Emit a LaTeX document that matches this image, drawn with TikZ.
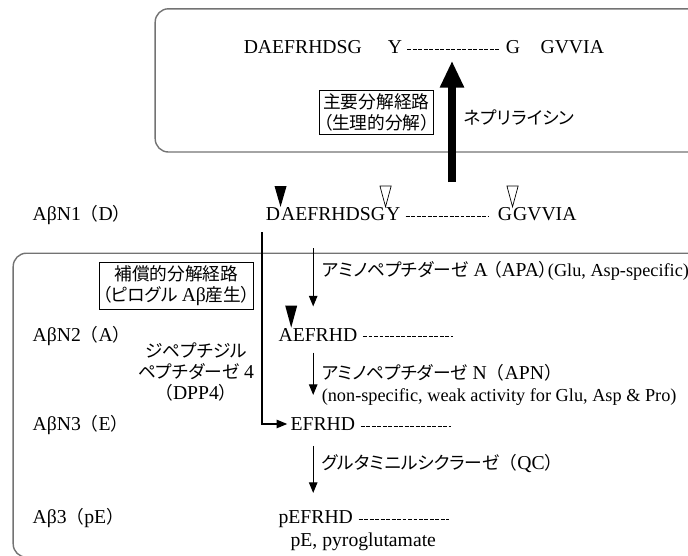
\documentclass[tikz,border=0pt]{standalone}
\usepackage{fontspec}
\setmainfont{Liberation Serif}
\newfontfamily\jp[Scale=0.9,RawFeature=+palt]{Noto Sans CJK JP}
\newfontfamily\jpw[Scale=0.9]{Noto Sans CJK JP}
\usetikzlibrary{arrows.meta, positioning, calc}

\begin{document}
\begin{tikzpicture}[>=Stealth, thick,
    lab/.style={font=\fontsize{14}{17}\selectfont, inner sep=0pt, anchor=base west},
    note/.style={font=\fontsize{14}{15}\selectfont, inner sep=0pt, align=center},
    areabox/.style={draw=black!55, line width=1pt, rounded corners=0.33cm},
    pathbox/.style={draw, line width=0.6pt, inner sep=2.5pt, align=center, font=\fontsize{14}{15}\selectfont},
    dashrow/.style={line width=0.5pt, dash pattern=on 2.8pt off 1.1pt},
    enz/.style={-{Triangle[width=6pt,length=7.5pt]}, line width=0.8pt}]
    \path[use as bounding box, clip] (0,0) rectangle (17.2,-13.875);

    % Frames of the two pathways
    \draw[areabox] (3.88,-0.22) rectangle (17.6,-3.8);
    \draw[areabox] (0.33,-6.33) rectangle (17.6,-13.93);

    % Full-length peptide (top)
    \node[lab] (topA) at (6.08,-1.34) {DAEFRHDSG};
    \node[lab] (topY) at (9.68,-1.34) {Y};
    \node[lab] (topG) at (12.63,-1.34) {G};
    \node[lab] (topGV) at (13.5,-1.34) {GVVIA};
    \draw[dashrow] ($(topY.base east)+(0.12,0.11)$) -- ($(topG.base west)+(-0.12,0.11)$);

    % Neprilysin route
    \node[pathbox] (mainbox) at (9.41,-2.81) {{\jp 主要分解経路}\\{\jp （生理的分解）}};
    \node[lab] (nep) at (11.58,-3.1) {\jp ネプリライシン};
    \coordinate (nepFoot) at (11.3,-4.55);
    \coordinate (nepTip) at (11.3,-1.52);
    \draw[-{Triangle[width=16pt,length=19pt]}, line width=5pt] (nepFoot) -- (nepTip);

    % AbetaN1
    \node[lab] (n1lab) at (0.8,-5.51) {AβN1{\jpw （}D{\jpw ）}};
    \node[lab] (n1D) at (6.63,-5.51) {D};
    \node[lab] (n1a) at (n1D.base east) {AEFRHDSG};
    \node[lab] (n1Y) at (n1a.base east) {Y};
    \node[lab] (n1G) at (12.43,-5.51) {G};
    \node[lab] (n1b) at (n1G.base east) {GVVIA};
    \draw[dashrow] ($(n1Y.base east)+(0.12,0.11)$) -- ($(n1G.base west)+(-0.22,0.11)$);
    % cleavage sites
    \fill (n1D.north east) -- ++(-0.15,0.52) -- ++(0.3,0) -- cycle;
    \foreach \m in {n1a, n1G}
        \draw[line width=0.5pt] (\m.north east) -- ++(-0.14,0.52) -- ++(0.28,0) -- cycle;

    % Compensatory route
    \node[pathbox] (compbox) at (4.41,-7.14) {{\jp 補償的分解経路}\\{\jp （ピログル }Aβ{\jp 産生）}};
    \node[note] (dpp) at (4.9,-9.3) {{\jp ジペプチジル}\\{\jp ペプチダーゼ} 4\\{\jpw （}DPP4{\jpw ）}};

    % AbetaN2
    \node[lab] (n2lab) at (0.8,-8.53) {AβN2{\jpw （}A{\jpw ）}};
    \node[lab] (n2) at (6.95,-8.53) {AEFRHD};
    \draw[dashrow] ($(n2.base east)+(0.13,0.11)$) -- ++(2.25,0);
    \fill ($(n2.north west)+(0.33,0)$) -- ++(-0.15,0.55) -- ++(0.3,0) -- cycle;

    % AbetaN3
    \node[lab] (n3lab) at (0.8,-10.76) {AβN3{\jpw （}E{\jpw ）}};
    \node[lab] (n3) at (7.25,-10.76) {EFRHD};
    \draw[dashrow] ($(n3.base east)+(0.13,0.11)$) -- ++(2.25,0);

    % Abeta3(pE)
    \node[lab] (n4lab) at (0.8,-13.09) {Aβ3{\jpw （}pE{\jpw ）}};
    \node[lab] (n4) at (6.95,-13.09) {pEFRHD};
    \draw[dashrow] ($(n4.base east)+(0.13,0.11)$) -- ++(2.25,0);
    \node[lab] (pglu) at (7.25,-13.66) {pE, pyroglutamate};

    % Enzyme steps
    \coordinate (col) at (7.83,0);
    \draw[enz] ($(n1a.south -| col)+(0,-0.68)$) -- ($(n2.north -| col)+(0,0.53)$);
    \draw[enz] ($(n2.south -| col)+(0,-0.27)$) -- ($(n3.north -| col)+(0,0.55)$);
    \draw[enz] ($(n3.south -| col)+(0,-0.37)$) -- ($(n4.north -| col)+(0,0.43)$);
    \draw[enz] ($(n1D.base west)+(-0.08,-0.29)$) |- ([xshift=-0.07cm]n3.west);

    \node[lab] (apa) at (8.05,-6.9) {{\jp アミノペプチダーゼ} A {\jp （}APA{\jp ）}{\fontsize{13}{15}\selectfont(Glu, Asp-specific)}};
    \node[lab] (apn) at (8.03,-9.48) {{\jp アミノペプチダーゼ} N{\jpw （}APN{\jpw ）}};
    \node[lab, font=\fontsize{13}{15}\selectfont] (apnnote) at (8.03,-10.03) {(non-specific, weak activity for Glu, Asp \& Pro)};
    \node[lab] (qc) at (8.03,-11.73) {{\jp グルタミニルシクラーゼ}{\jpw （}QC{\jpw ）}};
\end{tikzpicture}
\end{document}
